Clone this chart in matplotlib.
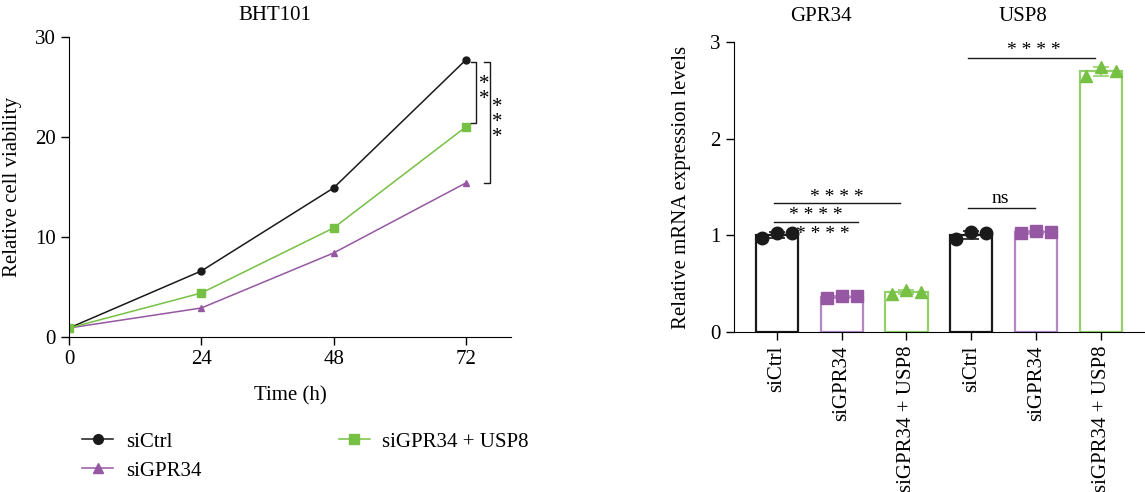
import matplotlib.pyplot as plt
import numpy as np

plt.rcParams['font.family'] = ['Liberation Serif', 'DejaVu Serif']
plt.rcParams['font.size'] = 15

# line chart data
hours = [0, 24, 48, 72]
via_ctrl = [0.9, 6.6, 14.9, 27.7]
via_gpr34 = [0.9, 2.9, 8.4, 15.4]
via_gpr34_usp8 = [0.9, 4.4, 10.9, 21.0]

# bar chart data (GPR34 panel then USP8 panel)
bar_labels = ['siCtrl', 'siGPR34', 'siGPR34 + USP8', 'siCtrl', 'siGPR34', 'siGPR34 + USP8']
bar_points = [
    [0.97, 1.02, 1.02],
    [0.35, 0.37, 0.37],
    [0.39, 0.43, 0.41],
    [0.96, 1.03, 1.02],
    [1.02, 1.05, 1.03],
    [2.65, 2.74, 2.70],
]

black = '#1a1a1a'
purple = '#9657a3'
green = '#76c043'
purple_edge = '#b387c2'
green_edge = '#93d06c'

fig = plt.figure(figsize=(11.45, 4.92), dpi=100)

# ---- left: viability ----
ax = fig.add_axes([0.0603, 0.315, 0.386, 0.61])
l1, = ax.plot(hours, via_ctrl, color=black, marker='o', ms=5, lw=1.1, label='siCtrl')
l2, = ax.plot(hours, via_gpr34, color=purple, marker='^', ms=5, lw=1.1, label='siGPR34')
l3, = ax.plot(hours, via_gpr34_usp8, color=green, marker='s', ms=5.5, lw=1.1, label='siGPR34 + USP8')
ax.set_xlim(0, 80.2)
ax.set_ylim(0, 30)
ax.set_xticks(hours)
ax.set_yticks([0, 10, 20, 30])
ax.spines['top'].set_visible(False)
ax.spines['right'].set_visible(False)
ax.tick_params(direction='out', length=6, width=1, labelsize=15)
ax.set_title('BHT101', fontsize=15, pad=12, x=0.466)
ax.set_xlabel('Time (h)', fontsize=15, labelpad=12)
ax.set_ylabel('Relative cell viability', fontsize=15, labelpad=9)

# significance brackets (stars stacked vertically)
def vbracket(ax, x, y0, y1, n, tx, w=1.0):
    ax.plot([x - w, x, x, x - w], [y1, y1, y0, y0], color=black, lw=1, clip_on=False)
    ax.text(tx, (y0 + y1) / 2, '\n'.join(['*'] * n), ha='center', va='center',
            fontsize=15, linespacing=0.72)

vbracket(ax, 73.9, 21.4, 27.5, 2, 75.3)
vbracket(ax, 76.3, 15.4, 27.5, 3, 77.7)

fig.legend(handles=[l1, l2, l3], loc='upper left', bbox_to_anchor=(0.0716, 0.122),
           bbox_transform=fig.transFigure, ncol=2, frameon=False, fontsize=15,
           handlelength=1.5, columnspacing=6.6, labelspacing=0.45, handletextpad=0.6,
           borderaxespad=0, borderpad=0, markerscale=1.4)

# ---- right: mRNA ----
bx = fig.add_axes([0.641, 0.325, 0.358, 0.59])
pos = np.arange(6)
edge_cols = [black, purple_edge, green_edge] * 2
mk_cols = [black, purple, green] * 2
mk_shapes = ['o', 's', '^'] * 2
for i, pts in enumerate(bar_points):
    m = np.mean(pts)
    sd = np.std(pts, ddof=1)
    bx.bar(pos[i], m, width=0.65, facecolor='none', edgecolor=edge_cols[i], lw=1.6)
    bx.errorbar(pos[i], m, yerr=sd, color=edge_cols[i], capsize=6, lw=1.2, capthick=1.2)
    bx.plot(pos[i] + np.array([-0.23, 0, 0.23]), pts, ls='none', marker=mk_shapes[i],
            color=mk_cols[i], ms=9, clip_on=False, zorder=5)
bx.set_xlim(-0.66, 5.66)
bx.set_ylim(0, 3)
bx.set_yticks([0, 1, 2, 3])
bx.set_xticks(pos)
bx.set_xticklabels(bar_labels, rotation=90)
bx.spines['top'].set_visible(False)
bx.spines['right'].set_visible(False)
bx.tick_params(direction='out', length=6, width=1, labelsize=15)
bx.set_ylabel('Relative mRNA expression levels', fontsize=15, labelpad=14)
bx.text(0.68, 3.26, 'GPR34', ha='center', va='center', fontsize=15)
bx.text(3.8, 3.26, 'USP8', ha='center', va='center', fontsize=15)

def hline(ax, x0, x1, y, txt, tx, ty):
    if x1 is not None:
        ax.plot([x0, x1], [y, y], color=black, lw=1)
    ax.text(tx, ty, txt, ha='center', va='center', fontsize=14)

hline(bx, -0.05, 1.9, 1.33, '* * * *', 0.92, 1.39)
hline(bx, -0.05, 1.25, 1.14, '* * * *', 0.6, 1.20)
hline(bx, 0, None, 1.0, '* * * *', 0.71, 1.01)
hline(bx, 2.95, 3.98, 1.28, 'ns', 3.45, 1.38)
hline(bx, 2.95, 4.9, 2.83, '* * * *', 3.96, 2.91)

fig.savefig('out.png', dpi=100)
